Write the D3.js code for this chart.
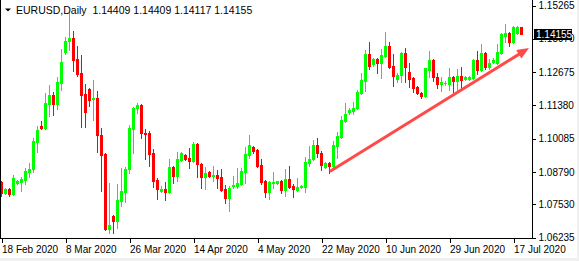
<!DOCTYPE html>
<html>
<head>
<meta charset="utf-8">
<script src="https://cdn.jsdelivr.net/npm/d3@7"></script>
<style>
  html, body { margin: 0; padding: 0; background: #fff; }
  svg { display: block; font-family: "Liberation Sans", Arial, sans-serif; }
</style>
</head>
<body>
<svg id="chart" width="579" height="261"></svg>
<script>
const w = 579;
const h = 261;

const title = 'EURUSD,Daily';
const lastQuote = ['1.14409', '1.14409', '1.14117', '1.14155'];

// daily bars, 18 Feb 2020 .. 20 Jul 2020 (index 0..130)
const opens = [
  1.0838, 1.0795, 1.0811, 1.0791, 1.0834, 1.0838, 1.0846, 1.0877, 1.0889, 1.0994,
  1.1056, 1.1048, 1.1141, 1.1176, 1.1141, 1.1223, 1.1344, 1.1387, 1.1398, 1.1316,
  1.1262, 1.1180, 1.1200, 1.1161, 1.1165, 1.1021, 1.0947, 1.0655, 1.0706, 1.0686,
  1.0764, 1.0799, 1.0889, 1.1044, 1.1126, 1.1138, 1.1029, 1.1029, 1.0951, 1.0846,
  1.0803, 1.0811, 1.0799, 1.0896, 1.0861, 1.0924, 1.0943, 1.0931, 1.0920, 1.0986,
  1.0908, 1.0857, 1.0877, 1.0861, 1.0865, 1.0857, 1.0811, 1.0776, 1.0822, 1.0822,
  1.0830, 1.0877, 1.0943, 1.0974, 1.0963, 1.0904, 1.0842, 1.0799, 1.0834, 1.0834,
  1.0842, 1.0807, 1.0850, 1.0822, 1.0807, 1.0819, 1.0819, 1.0912, 1.0928, 1.0982,
  1.0951, 1.0896, 1.0912, 1.0900, 1.0978, 1.1013, 1.1075, 1.1110, 1.1114, 1.1126,
  1.1184, 1.1231, 1.1336, 1.1297, 1.1316, 1.1301, 1.1328, 1.1367, 1.1289, 1.1239,
  1.1254, 1.1340, 1.1266, 1.1243, 1.1208, 1.1184, 1.1173, 1.1274, 1.1313, 1.1246,
  1.1219, 1.1223, 1.1219, 1.1246, 1.1231, 1.1250, 1.1239, 1.1239, 1.1243, 1.1313,
  1.1274, 1.1340, 1.1285, 1.1305, 1.1301, 1.1340, 1.1406, 1.1418, 1.1383, 1.1418,
  1.14409
];
const highs = [
  1.0842, 1.0815, 1.0815, 1.0865, 1.0846, 1.0857, 1.0892, 1.0912, 1.1009, 1.1056,
  1.1075, 1.1184, 1.1215, 1.1188, 1.1246, 1.1355, 1.1402, 1.1499, 1.1425, 1.1367,
  1.1332, 1.1219, 1.1204, 1.1235, 1.1192, 1.1048, 1.0951, 1.0834, 1.0710, 1.0830,
  1.0892, 1.0896, 1.1060, 1.1130, 1.1145, 1.1141, 1.1044, 1.1036, 1.0966, 1.0854,
  1.0822, 1.0838, 1.0928, 1.0900, 1.0955, 1.0955, 1.0947, 1.0970, 1.0994, 1.0990,
  1.0912, 1.0896, 1.0881, 1.0900, 1.0885, 1.0889, 1.0826, 1.0822, 1.0861, 1.0892,
  1.0892, 1.0974, 1.1021, 1.0978, 1.0966, 1.0928, 1.0846, 1.0842, 1.0877, 1.0842,
  1.0846, 1.0889, 1.0900, 1.0830, 1.0854, 1.0826, 1.0935, 1.0978, 1.1001, 1.1009,
  1.0959, 1.0916, 1.0916, 1.0998, 1.1033, 1.1095, 1.1145, 1.1126, 1.1149, 1.1196,
  1.1262, 1.1351, 1.1383, 1.1320, 1.1320, 1.1355, 1.1422, 1.1383, 1.1336, 1.1262,
  1.1344, 1.1359, 1.1301, 1.1247, 1.1212, 1.1188, 1.1281, 1.1348, 1.1316, 1.1262,
  1.1246, 1.1231, 1.1281, 1.1250, 1.1278, 1.1285, 1.1250, 1.1250, 1.1316, 1.1348,
  1.1375, 1.1344, 1.1316, 1.1320, 1.1375, 1.1418, 1.1453, 1.1422, 1.1445, 1.1445,
  1.14409
];
const lows = [
  1.0784, 1.0791, 1.0784, 1.0788, 1.0830, 1.0803, 1.0830, 1.0857, 1.0877, 1.0955,
  1.1044, 1.1044, 1.1095, 1.1099, 1.1122, 1.1196, 1.1336, 1.1351, 1.1270, 1.1250,
  1.1052, 1.1052, 1.1134, 1.1079, 1.0955, 1.0803, 1.0651, 1.0640, 1.0640, 1.0659,
  1.0745, 1.0760, 1.0873, 1.0951, 1.1106, 1.1009, 1.0928, 1.0900, 1.0819, 1.0772,
  1.0799, 1.0768, 1.0795, 1.0834, 1.0842, 1.0920, 1.0924, 1.0892, 1.0916, 1.0857,
  1.0815, 1.0811, 1.0857, 1.0842, 1.0815, 1.0803, 1.0756, 1.0725, 1.0815, 1.0815,
  1.0826, 1.0834, 1.0931, 1.0951, 1.0896, 1.0830, 1.0780, 1.0772, 1.0815, 1.0830,
  1.0795, 1.0784, 1.0815, 1.0780, 1.0803, 1.0815, 1.0799, 1.0900, 1.0924, 1.0935,
  1.0885, 1.0892, 1.0873, 1.0896, 1.0931, 1.1009, 1.1071, 1.1103, 1.1103, 1.1122,
  1.1180, 1.1192, 1.1278, 1.1289, 1.1262, 1.1243, 1.1324, 1.1281, 1.1211, 1.1227,
  1.1227, 1.1227, 1.1208, 1.1188, 1.1180, 1.1165, 1.1169, 1.1246, 1.1231, 1.1204,
  1.1192, 1.1215, 1.1196, 1.1188, 1.1196, 1.1204, 1.1235, 1.1235, 1.1239, 1.1258,
  1.1270, 1.1278, 1.1278, 1.1301, 1.1297, 1.1336, 1.1383, 1.1367, 1.1379, 1.1414,
  1.14117
];
const closes = [
  1.0795, 1.0811, 1.0791, 1.0854, 1.0842, 1.0850, 1.0881, 1.0889, 1.0998, 1.1040,
  1.1048, 1.1145, 1.1176, 1.1141, 1.1227, 1.1305, 1.1387, 1.1398, 1.1313, 1.1258,
  1.1176, 1.1110, 1.1157, 1.1165, 1.1021, 1.0943, 1.0655, 1.0671, 1.0686, 1.0768,
  1.0803, 1.0889, 1.1048, 1.1126, 1.1138, 1.1029, 1.1025, 1.0947, 1.0842, 1.0811,
  1.0811, 1.0799, 1.0896, 1.0861, 1.0928, 1.0951, 1.0928, 1.0920, 1.0986, 1.0908,
  1.0857, 1.0873, 1.0861, 1.0865, 1.0854, 1.0807, 1.0776, 1.0815, 1.0826, 1.0834,
  1.0881, 1.0947, 1.0982, 1.0959, 1.0900, 1.0838, 1.0799, 1.0838, 1.0838, 1.0842,
  1.0807, 1.0850, 1.0819, 1.0811, 1.0819, 1.0822, 1.0916, 1.0928, 1.0982, 1.0951,
  1.0904, 1.0912, 1.0900, 1.0982, 1.1017, 1.1079, 1.1103, 1.1118, 1.1126, 1.1188,
  1.1235, 1.1336, 1.1289, 1.1316, 1.1301, 1.1332, 1.1367, 1.1285, 1.1250, 1.1254,
  1.1340, 1.1285, 1.1239, 1.1204, 1.1184, 1.1173, 1.1281, 1.1313, 1.1246, 1.1219,
  1.1227, 1.1224, 1.1246, 1.1231, 1.1250, 1.1235, 1.1246, 1.1246, 1.1313, 1.1274,
  1.1340, 1.1285, 1.1301, 1.1313, 1.1344, 1.1414, 1.1418, 1.1383, 1.1441, 1.1441,
  1.14155
];

const dateLabels = ['18 Feb 2020', '8 Mar 2020', '26 Mar 2020', '14 Apr 2020', '4 May 2020',
  '22 May 2020', '10 Jun 2020', '29 Jun 2020', '17 Jul 2020'];
const dateBars = [0, 16, 32, 48, 64, 80, 96, 112, 128];

const priceLabels = ['1.15265', '1.13970', '1.12675', '1.11380', '1.10085', '1.08790', '1.07530', '1.06235'];

// trend arrow drawn on the chart (bar index, price)
const arrowFrom = [82.5, 1.0881];
const arrowTo = [132, 1.1359];

const bull = '#00ff00';
const bear = '#ff0000';

const xScale = d3.scaleLinear()
  .domain([0, 130])
  .range([1, 521]);
const yScale = d3.scaleLinear()
  .domain([1.06235, 1.15265])
  .range([237, 5]);

const svg = d3.select('#chart');

// window edge
svg.append('rect').attr('x', 0).attr('y', 0).attr('width', w).attr('height', h).attr('fill', '#f0f0f0');
svg.append('rect').attr('x', 0).attr('y', 0).attr('width', 577).attr('height', 258).attr('fill', '#fff');

const bars = d3.range(opens.length).map(i => ({
  i, o: opens[i], hi: highs[i], lo: lows[i], c: closes[i]
}));

const g = svg.append('g').attr('shape-rendering', 'crispEdges');

g.selectAll('rect.wick')
  .data(bars)
  .enter()
  .append('rect')
  .attr('class', 'wick')
  .attr('x', d => Math.round(xScale(d.i)))
  .attr('y', d => Math.round(yScale(d.hi)))
  .attr('width', 1)
  .attr('height', d => Math.round(yScale(d.lo)) - Math.round(yScale(d.hi)) + 1)
  .attr('fill', d => d.c >= d.o ? bull : bear);

g.selectAll('rect.body')
  .data(bars)
  .enter()
  .append('rect')
  .attr('class', 'body')
  .attr('x', d => Math.round(xScale(d.i)) - 1)
  .attr('y', d => Math.round(yScale(Math.max(d.o, d.c))))
  .attr('width', 3)
  .attr('height', d => Math.max(1, Math.round(yScale(Math.min(d.o, d.c))) - Math.round(yScale(Math.max(d.o, d.c))) + 1))
  .attr('fill', d => d.c >= d.o ? bull : bear);

// arrow
const ax1 = xScale(arrowFrom[0]), ay1 = yScale(arrowFrom[1]);
const ax2 = xScale(arrowTo[0]), ay2 = yScale(arrowTo[1]);
const ang = Math.atan2(ay2 - ay1, ax2 - ax1);
const headLen = 12, headW = 5;
const bx = ax2 - headLen * Math.cos(ang), by = ay2 - headLen * Math.sin(ang);
svg.append('line')
  .attr('x1', ax1).attr('y1', ay1)
  .attr('x2', bx).attr('y2', by)
  .attr('stroke', '#ff4a4a')
  .attr('stroke-width', 3)
  .attr('stroke-linecap', 'round');
svg.append('path')
  .attr('d', d3.line()([
    [ax2, ay2],
    [bx + headW * Math.sin(ang), by - headW * Math.cos(ang)],
    [bx - headW * Math.sin(ang), by + headW * Math.cos(ang)]
  ]) + 'Z')
  .attr('fill', '#ff4a4a');

// frame
const frame = svg.append('g').attr('shape-rendering', 'crispEdges').attr('stroke', '#000');
frame.append('line').attr('x1', 0.5).attr('x2', 0.5).attr('y1', 0).attr('y2', 238.5);
frame.append('line').attr('x1', 532.5).attr('x2', 532.5).attr('y1', 0).attr('y2', 238.5);
frame.append('line').attr('x1', 0).attr('x2', 533).attr('y1', 238.5).attr('y2', 238.5);

// price axis
const priceAxis = d3.axisRight(yScale)
  .tickValues(priceLabels.map(Number))
  .tickFormat((d, i) => priceLabels[i])
  .tickSize(3)
  .tickPadding(3);
svg.append('g')
  .attr('transform', 'translate(532.5,0.5)')
  .call(priceAxis)
  .call(a => a.select('.domain').remove())
  .call(a => a.selectAll('line').attr('shape-rendering', 'crispEdges'))
  .call(a => a.selectAll('text')
    .attr('font-family', '"Liberation Sans", Arial, sans-serif')
    .attr('font-size', 10)
    .attr('fill', '#000'));

// date axis
const dateAxis = d3.axisBottom(xScale)
  .tickValues(dateBars)
  .tickFormat((d, i) => dateLabels[i])
  .tickSize(4)
  .tickPadding(3);
svg.append('g')
  .attr('transform', 'translate(0.5,238.5)')
  .call(dateAxis)
  .call(a => a.select('.domain').remove())
  .call(a => a.selectAll('line').attr('shape-rendering', 'crispEdges'))
  .call(a => a.selectAll('text')
    .attr('text-anchor', 'start')
    .attr('x', 0)
    .attr('font-family', '"Liberation Sans", Arial, sans-serif')
    .attr('font-size', 10)
    .attr('fill', '#000'));

// current price box
const lastY = Math.round(yScale(closes[closes.length - 1]));
svg.append('rect')
  .attr('x', 534).attr('y', lastY - 5)
  .attr('width', 38).attr('height', 11)
  .attr('fill', '#000');
svg.append('text')
  .attr('x', 536).attr('y', lastY + 0.5)
  .attr('dy', '0.35em')
  .attr('font-size', 10)
  .attr('fill', '#fff')
  .text(closes[closes.length - 1].toFixed(5));

// header
svg.append('path')
  .attr('d', 'M5,8.5L11,8.5L8,11.5Z')
  .attr('fill', '#000');
svg.append('text')
  .attr('x', 16).attr('y', 14)
  .attr('font-size', 10.5)
  .attr('fill', '#000')
  .text(title + '  ' + lastQuote.join(' '))
  .attr('xml:space', 'preserve');
</script>
</body>
</html>
